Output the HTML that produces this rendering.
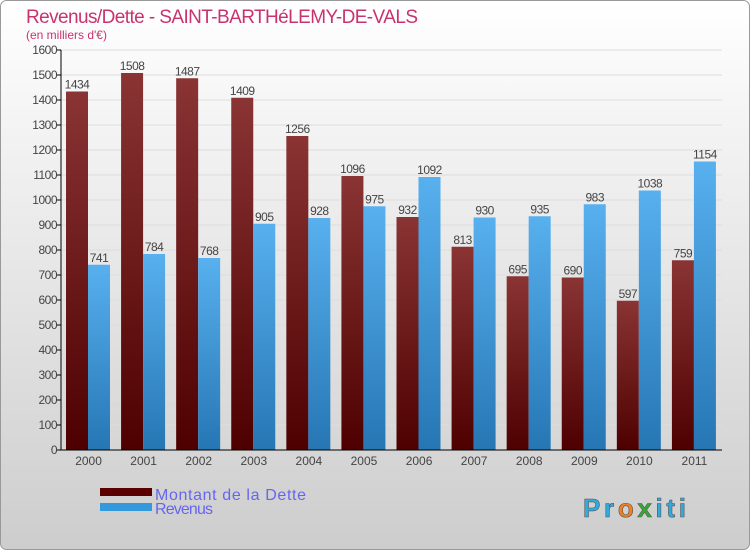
<!DOCTYPE html>
<html><head><meta charset="utf-8"><style>
body{margin:0}
#wrap{width:750px;height:550px;position:relative;font-family:"Liberation Sans",sans-serif}
</style></head><body>
<div id="wrap">
<svg id="svg" width="750" height="550" xmlns="http://www.w3.org/2000/svg">
<defs>
<linearGradient id="bg" x1="0" y1="0" x2="0" y2="1"><stop offset="0" stop-color="#ffffff"/><stop offset="1" stop-color="#cdcdcd"/></linearGradient>
<linearGradient id="gd" x1="0" y1="0" x2="0" y2="1"><stop offset="0" stop-color="#8a3434"/><stop offset="1" stop-color="#4e0000"/></linearGradient>
<linearGradient id="gr" x1="0" y1="0" x2="0" y2="1"><stop offset="0" stop-color="#58b0ee"/><stop offset="1" stop-color="#2676b4"/></linearGradient>
</defs>
<rect x="0.5" y="0.5" width="749" height="549" rx="6" fill="url(#bg)" stroke="#999"/>
<text x="26" y="23" font-size="19" fill="#c8336e" textLength="392">Revenus/Dette - SAINT-BARTHéLEMY-DE-VALS</text>
<text x="26" y="39" font-size="12" fill="#c8336e">(en milliers d'€)</text>
<g id="grid"></g>
<g id="bars"></g>
<g id="axes"></g>
<rect x="100" y="488" width="52" height="8" fill="#5a0000"/>
<text x="155" y="500" font-size="16" fill="#6666ee" textLength="151">Montant de la Dette</text>
<rect x="100" y="503" width="52" height="8" fill="#3399dd"/>
<text x="155" y="514" font-size="16" fill="#6666ee" textLength="58">Revenus</text>
<text x="583" y="517" font-size="26" font-weight="bold" fill="#3399dd" stroke="#555" stroke-width="0.6" textLength="103"><tspan fill="#33aadd">Pr</tspan><tspan fill="#f08020">o</tspan><tspan fill="#33aa33">x</tspan><tspan fill="#33aadd">iti</tspan></text>
</svg>
</div>
<script>
const categories=["2000","2001","2002","2003","2004","2005","2006","2007","2008","2009","2010","2011"];
const detteValues=[1434,1508,1487,1409,1256,1096,932,813,695,690,597,759];
const revenusValues=[741,784,768,905,928,975,1092,930,935,983,1038,1154];
const yTicks=[0,100,200,300,400,500,600,700,800,900,1000,1100,1200,1300,1400,1500,1600];
const NS="http://www.w3.org/2000/svg";
const x0=61,x1=722,yTop=50,yBot=450,yMax=1600;
const gw=(x1-x0)/categories.length;
function yS(v){return yBot-(v/yMax)*(yBot-yTop);}
function xG(i){return x0+i*gw;}
function mk(tag,attrs,parent){const e=document.createElementNS(NS,tag);for(const k in attrs)e.setAttribute(k,attrs[k]);parent.appendChild(e);return e;}
const grid=document.getElementById('grid'),bars=document.getElementById('bars'),axes=document.getElementById('axes');
yTicks.forEach(t=>{
  const y=yS(t);
  const l=mk('line',{x1:x0,x2:x1,y1:y,y2:y,stroke:'#dddddd','stroke-width':1},grid);
  
  
  const tk=mk('line',{x1:x0-4,x2:x0,y1:y,y2:y,stroke:'#000'},axes);
  
  
  const tx=mk('text',{x:x0-4,y:y+4,'font-size':12,'text-anchor':'end',fill:'#444','letter-spacing':'-0.5'},axes);
  tx.textContent=t;
  
  
});
mk('line',{x1:x0,x2:x0,y1:yTop,y2:yBot,stroke:'#000'},axes);
mk('line',{x1:x0,x2:x1,y1:yBot,y2:yBot,stroke:'#000'},axes);
categories.forEach((c,i)=>{
  const gx=xG(i),bw=22;
  const dx=gx+5,rx=gx+27;
  const d=mk('rect',{x:dx,y:yS(detteValues[i]),width:bw,height:yBot-yS(detteValues[i]),fill:'url(#gd)'},bars);
  
  
  const r=mk('rect',{x:rx,y:yS(revenusValues[i]),width:bw,height:yBot-yS(revenusValues[i]),fill:'url(#gr)'},bars);
  
  
  const dl=mk('text',{x:dx+bw/2,y:yS(detteValues[i])-3,'font-size':12,'text-anchor':'middle',fill:'#444','letter-spacing':'-0.5'},bars);
  dl.textContent=detteValues[i];
  
  
  const rl=mk('text',{x:rx+bw/2,y:yS(revenusValues[i])-3,'font-size':12,'text-anchor':'middle',fill:'#444','letter-spacing':'-0.5'},bars);
  rl.textContent=revenusValues[i];
  
  
  const xl=mk('text',{x:gx+gw/2,y:465,'font-size':12,'text-anchor':'middle',fill:'#444'},axes);
  xl.textContent=c;
  
  
});
</script>
</body></html>
